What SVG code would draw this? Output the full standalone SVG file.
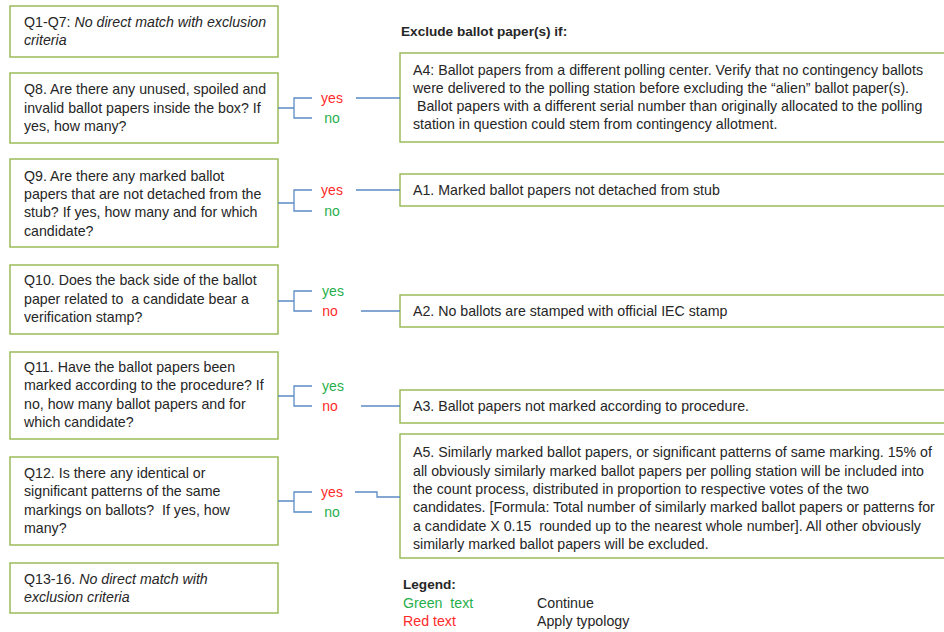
<svg xmlns="http://www.w3.org/2000/svg" width="944" height="632" viewBox="0 0 944 632">
<style>
  .box { fill: #ffffff; stroke: #9BBB59; stroke-width: 1.5; }
  .t { font-family: "Liberation Sans", Arial, sans-serif; font-size: 14.2px; fill: #262626; }
  .i { font-style: italic; }
  .b { font-weight: bold; font-size: 13.6px; }
  .pre { white-space: pre; }
  .conn { fill: none; stroke: #5B8BC5; stroke-width: 1.3; }
  .g { fill: #1FAF4B; }
  .r { fill: #FF2A2A; }
  .lbl { font-family: "Liberation Sans", Arial, sans-serif; font-size: 14px; text-anchor: middle; }
</style>
<rect width="944" height="632" fill="#ffffff"/>

<!-- Question nodes -->
<g id="q1-7">
  <rect class="box" x="10" y="6" width="268" height="51"/>
  <text class="t" x="24" y="27">Q1-Q7: <tspan class="i">No direct match with exclusion</tspan></text>
  <text class="t i" x="24" y="45">criteria</text>
</g>
<g id="q8">
  <rect class="box" x="10" y="73" width="268" height="70"/>
  <text class="t" x="24" y="94">Q8. Are there any unused, spoiled and</text>
  <text class="t" x="24" y="112.5">invalid ballot papers inside the box? If</text>
  <text class="t" x="24" y="131">yes, how many?</text>
</g>
<g id="q9">
  <rect class="box" x="10" y="159" width="268" height="88"/>
  <text class="t" x="24" y="180.5">Q9. Are there any marked ballot</text>
  <text class="t" x="24" y="199">papers that are not detached from the</text>
  <text class="t" x="24" y="217">stub? If yes, how many and for which</text>
  <text class="t" x="24" y="235.5">candidate?</text>
</g>
<g id="q10">
  <rect class="box" x="10" y="265" width="268" height="69"/>
  <text class="t" x="24" y="285">Q10. Does the back side of the ballot</text>
  <text class="t pre" x="24" y="303.5" xml:space="preserve">paper related to  a candidate bear a</text>
  <text class="t" x="24" y="321.5">verification stamp?</text>
</g>
<g id="q11">
  <rect class="box" x="10" y="352" width="268" height="87"/>
  <text class="t" x="24" y="372">Q11. Have the ballot papers been</text>
  <text class="t" x="24" y="390">marked according to the procedure? If</text>
  <text class="t" x="24" y="408.5">no, how many ballot papers and for</text>
  <text class="t" x="24" y="426.5">which candidate?</text>
</g>
<g id="q12">
  <rect class="box" x="10" y="457" width="268" height="88"/>
  <text class="t" x="24" y="478">Q12. Is there any identical or</text>
  <text class="t" x="24" y="496">significant patterns of the same</text>
  <text class="t pre" x="24" y="514.5" xml:space="preserve">markings on ballots?  If yes, how</text>
  <text class="t" x="24" y="533">many?</text>
</g>
<g id="q13-16">
  <rect class="box" x="10" y="563" width="268" height="50"/>
  <text class="t" x="24" y="583.5">Q13-16. <tspan class="i">No direct match with</tspan></text>
  <text class="t i" x="24" y="601.5">exclusion criteria</text>
</g>

<!-- Header -->
<text class="t b" x="401" y="36">Exclude ballot paper(s) if:</text>

<!-- Answer nodes -->
<g id="a4">
  <rect class="box" x="400" y="53" width="560" height="89"/>
  <text class="t" x="413" y="74.5">A4: Ballot papers from a different polling center. Verify that no contingency ballots</text>
  <text class="t" x="413" y="92.5">were delivered to the polling station before excluding the “alien” ballot paper(s).</text>
  <text class="t" x="417" y="111">Ballot papers with a different serial number than originally allocated to the polling</text>
  <text class="t" x="413" y="129">station in question could stem from contingency allotment.</text>
</g>
<g id="a1">
  <rect class="box" x="400" y="174" width="560" height="32"/>
  <text class="t" x="413" y="194.5">A1. Marked ballot papers not detached from stub</text>
</g>
<g id="a2">
  <rect class="box" x="400" y="295" width="560" height="32"/>
  <text class="t" x="413" y="315.5">A2. No ballots are stamped with official IEC stamp</text>
</g>
<g id="a3">
  <rect class="box" x="400" y="390" width="560" height="33"/>
  <text class="t" x="413" y="410.5">A3. Ballot papers not marked according to procedure.</text>
</g>
<g id="a5">
  <rect class="box" x="400" y="434" width="560" height="124"/>
  <text class="t" x="413" y="457">A5. Similarly marked ballot papers, or significant patterns of same marking. 15% of</text>
  <text class="t" x="413" y="475.5">all obviously similarly marked ballot papers per polling station will be included into</text>
  <text class="t" x="413" y="494">the count process, distributed in proportion to respective votes of the two</text>
  <text class="t" x="413" y="512">candidates. [Formula: Total number of similarly marked ballot papers or patterns for</text>
  <text class="t pre" x="413" y="530.5" xml:space="preserve">a candidate X 0.15  rounded up to the nearest whole number]. All other obviously</text>
  <text class="t" x="413" y="549">similarly marked ballot papers will be excluded.</text>
</g>

<!-- Connectors -->
<g id="connectors">
  <path class="conn" d="M278,108 H294 M312,98 H294 V118 H312 M356,98 H400"/>
  <path class="conn" d="M278,203 H294 M312,190 H294 V211 H312 M356,190 H400"/>
  <path class="conn" d="M278,301 H294 M312,291 H294 V311 H312 M361,311 H400"/>
  <path class="conn" d="M278,396 H294 M312,386 H294 V406 H312 M361,406 H400"/>
  <path class="conn" d="M278,501 H294 M312,492 H294 V512 H312 M355,492 H377 V497 H400"/>
</g>

<!-- Connector labels -->
<g id="labels" class="lbl">
  <text class="r" x="332" y="103">yes</text>
  <text class="g" x="332" y="123">no</text>
  <text class="r" x="332" y="195">yes</text>
  <text class="g" x="332" y="215.5">no</text>
  <text class="g" x="333" y="296">yes</text>
  <text class="r" x="330" y="316">no</text>
  <text class="g" x="333" y="391">yes</text>
  <text class="r" x="330" y="411">no</text>
  <text class="r" x="332" y="497">yes</text>
  <text class="g" x="332" y="517">no</text>
</g>

<!-- Legend -->
<g id="legend">
  <text class="t b" x="403" y="589">Legend:</text>
  <text class="t g pre" x="403" y="607.5" xml:space="preserve">Green  text</text>
  <text class="t r" x="403" y="626">Red text</text>
  <text class="t" x="537" y="607.5">Continue</text>
  <text class="t" x="537" y="626">Apply typology</text>
</g>
</svg>
